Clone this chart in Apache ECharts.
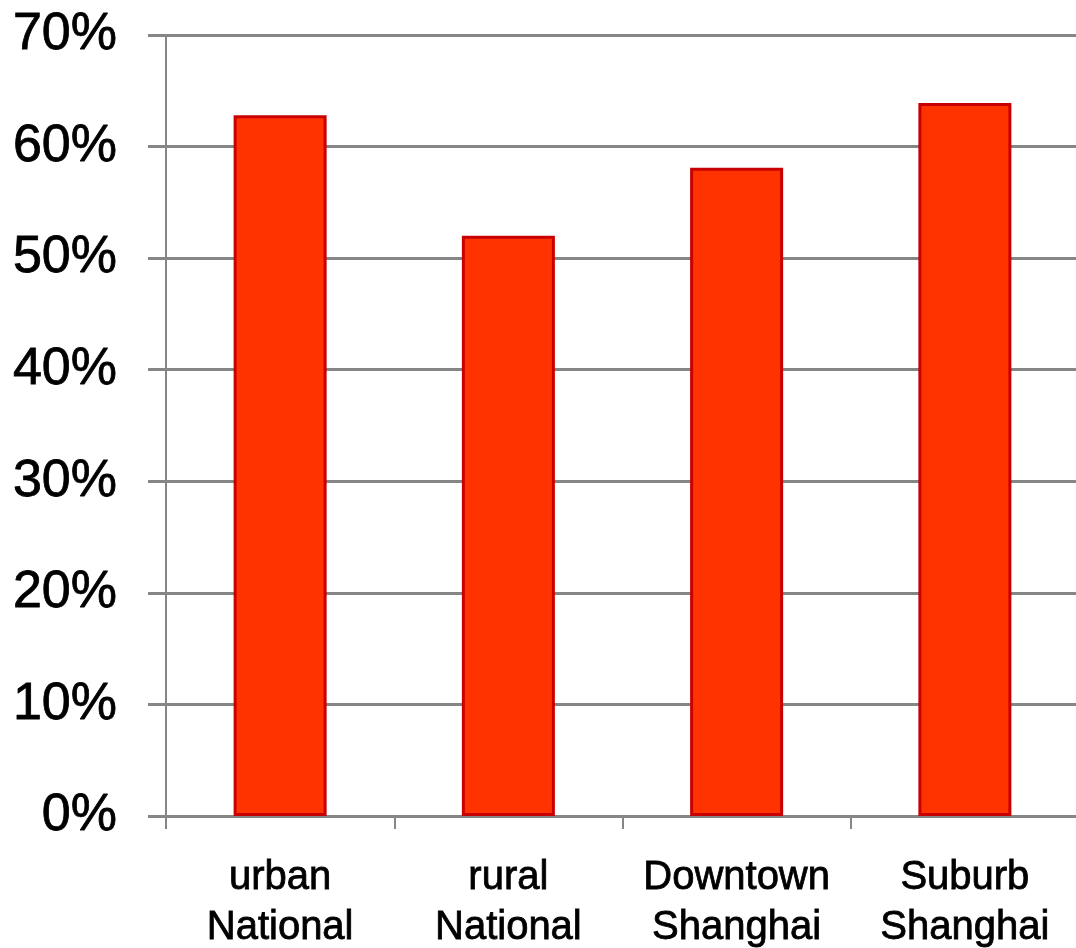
<!DOCTYPE html>
<html>
<head>
<meta charset="utf-8">
<script src="https://cdn.jsdelivr.net/npm/echarts@6/dist/echarts.min.js"></script>
<style>
  html, body { margin: 0; padding: 0; background: #fff; }
  #chart { width: 1076px; height: 948px; }
</style>
</head>
<body>
<div id="chart"></div>
<script>
// data
const categories = ['urban\nNational', 'rural\nNational', 'Downtown\nShanghai', 'Suburb\nShanghai'];
const shares = [62.8, 52.0, 58.1, 63.9];
const yTicks = [0, 10, 20, 30, 40, 50, 60, 70];

const gridColor = '#868686';
const chart = echarts.init(document.getElementById('chart'));

// text in the original is slightly heavier (aliased render)
const textStyle = {
    color: '#000',
    fontFamily: 'Liberation Sans, Arial, sans-serif',
    textBorderColor: '#000',
    textBorderWidth: 0.8
};

chart.setOption({
    animation: false,
    grid: { left: 166, top: 35, right: -3, bottom: 132, outerBoundsMode: 'none' },
    xAxis: {
        type: 'category',
        data: categories,
        axisLine: { lineStyle: { color: gridColor, width: 3 } },
        axisTick: { show: true, length: 13, lineStyle: { color: gridColor, width: 2 } },
        axisLabel: Object.assign({
            interval: 0,
            fontSize: 40,
            lineHeight: 50,
            margin: 37
        }, textStyle)
    },
    yAxis: {
        type: 'value',
        min: yTicks[0],
        max: yTicks[yTicks.length - 1],
        interval: 10,
        axisLine: { show: true, lineStyle: { color: gridColor, width: 2 } },
        axisTick: { show: true, length: 18, lineStyle: { color: gridColor, width: 3 } },
        splitLine: { lineStyle: { color: gridColor, width: 3 } },
        axisLabel: Object.assign({
            fontSize: 52,
            margin: 49,
            formatter: v => v + '%'
        }, textStyle)
    },
    series: [{
        type: 'bar',
        data: shares,
        barWidth: 93,
        itemStyle: { color: '#ff3300', borderColor: '#c80000', borderWidth: 3 }
    }]
});
</script>
</body>
</html>
